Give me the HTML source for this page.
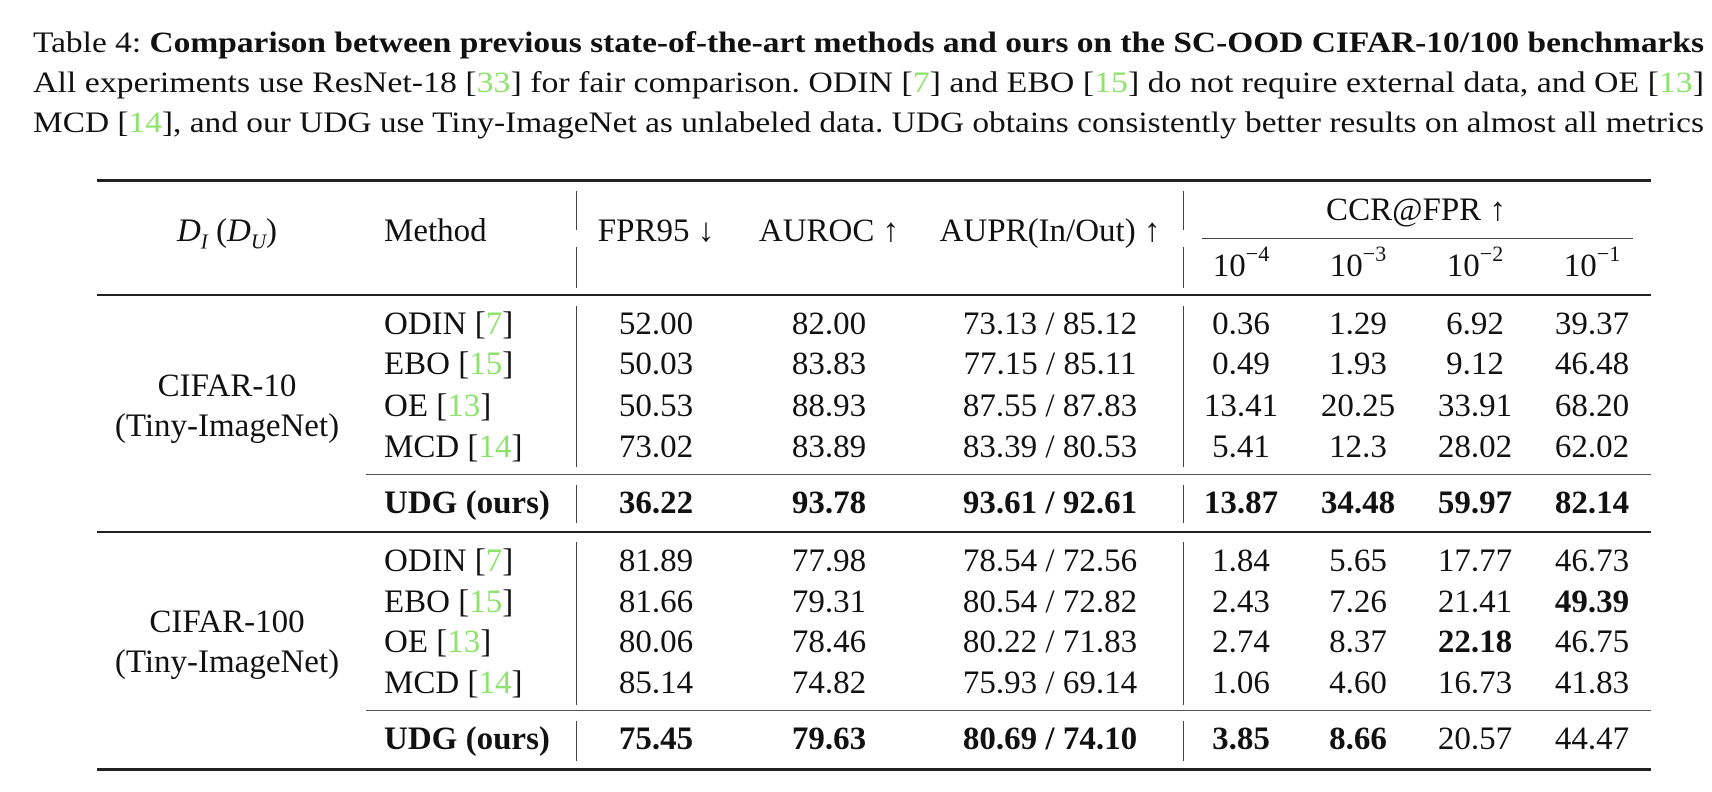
<!DOCTYPE html>
<html><head><meta charset="utf-8">
<style>
html,body{margin:0;padding:0;background:#fff;}
#root{position:relative;width:1712px;height:792px;overflow:hidden;font-family:"Liberation Serif","DejaVu Serif",serif;color:#111;}
.cap{position:absolute;left:33px;white-space:nowrap;font-size:30px;line-height:40px;transform-origin:0 50%;}
.g{color:#8ee36e;}
.rule{position:absolute;background:#222;}
.t{position:absolute;white-space:nowrap;font-size:33px;line-height:40px;height:40px;}
.c{transform:translateX(-50%);}
.b{font-weight:bold;}
sup{font-size:22px;line-height:0;position:relative;top:-3px;vertical-align:super;}
sub{font-size:21px;line-height:0;vertical-align:sub;}
i{font-style:italic;}
</style></head>
<body>
<div id="root">
  <div class="cap" style="top:23px">Table 4: <b>Comparison between previous state-of-the-art methods and ours on the SC-OOD CIFAR-10/100 benchmarks</b></div>
  <div class="cap" style="top:63px">All experiments use ResNet-18 [<span class="g">33</span>] for fair comparison. ODIN [<span class="g">7</span>] and EBO [<span class="g">15</span>] do not require external data, and OE [<span class="g">13</span>]</div>
  <div class="cap" style="top:103px">MCD [<span class="g">14</span>], and our UDG use Tiny-ImageNet as unlabeled data. UDG obtains consistently better results on almost all metrics</div>

  <div class="rule" style="left:97px;width:1554px;top:179px;height:3px"></div>
  <div class="rule" style="left:97px;width:1554px;top:294px;height:2px"></div>
  <div class="rule" style="left:97px;width:1554px;top:531px;height:2px"></div>
  <div class="rule" style="left:97px;width:1554px;top:768px;height:3px"></div>
  <div class="rule" style="left:366px;width:1285px;top:474px;height:1px;background:#555"></div>
  <div class="rule" style="left:366px;width:1285px;top:710px;height:1px;background:#555"></div>
  <div class="rule" style="left:1202px;width:431px;top:238px;height:1px;background:#444"></div>

  <div class="t c" style="left:227px;top:211px"><i>D</i><sub><i>I</i></sub> (<i>D</i><sub><i>U</i></sub>)</div>
  <div class="t" style="left:384px;top:211px">Method</div>
  <div class="t c" style="left:656px;top:211px">FPR95 ↓</div>
  <div class="t c" style="left:829px;top:211px">AUROC ↑</div>
  <div class="t c" style="left:1050px;top:211px">AUPR(In/Out) ↑</div>
  <div class="t c" style="left:1416px;top:190px">CCR@FPR ↑</div>
  <div class="t c" style="left:1241px;top:246px">10<sup>−4</sup></div>
  <div class="t c" style="left:1358px;top:246px">10<sup>−3</sup></div>
  <div class="t c" style="left:1475px;top:246px">10<sup>−2</sup></div>
  <div class="t c" style="left:1592px;top:246px">10<sup>−1</sup></div>

  <div class="t c" style="left:227px;top:366px">CIFAR-10</div>
  <div class="t c" style="left:227px;top:406px">(Tiny-ImageNet)</div>
  <div class="t c" style="left:227px;top:602px">CIFAR-100</div>
  <div class="t c" style="left:227px;top:642px">(Tiny-ImageNet)</div>
</div>
<script>
const methods = ["ODIN|7","EBO|15","OE|13","MCD|14","UDG (ours)"];
const c10 = [
 ["52.00","82.00","73.13 / 85.12","0.36","1.29","6.92","39.37"],
 ["50.03","83.83","77.15 / 85.11","0.49","1.93","9.12","46.48"],
 ["50.53","88.93","87.55 / 87.83","13.41","20.25","33.91","68.20"],
 ["73.02","83.89","83.39 / 80.53","5.41","12.3","28.02","62.02"],
 ["36.22","93.78","93.61 / 92.61","13.87","34.48","59.97","82.14"]];
const c100 = [
 ["81.89","77.98","78.54 / 72.56","1.84","5.65","17.77","46.73"],
 ["81.66","79.31","80.54 / 72.82","2.43","7.26","21.41","49.39"],
 ["80.06","78.46","80.22 / 71.83","2.74","8.37","22.18","46.75"],
 ["85.14","74.82","75.93 / 69.14","1.06","4.60","16.73","41.83"],
 ["75.45","79.63","80.69 / 74.10","3.85","8.66","20.57","44.47"]];
const bold10 = [[],[],[],[],[0,1,2,3,4,5,6]];
const bold100 = [[],[6],[5],[],[0,1,2,3,4]];
const root = document.getElementById('root');
const colX = [656,829,1050,1241,1358,1475,1592];
function addVline(x,y1,y2,name){
  const v=document.createElement('div');
  v.className='rule';
  v.style.cssText='left:'+x+'px;top:'+y1+'px;width:1px;height:'+(y2-y1)+'px;background:#444';
  
  
  root.appendChild(v);
}
addVline(576,191,230,'vline-header-a');addVline(576,247,288,'vline-header-b');
addVline(1183,191,230,'vline-header-c');addVline(1183,247,288,'vline-header-d');
function section(rows,bold,ys,tag){
  rows.forEach((r,i)=>{
    const m=methods[i].split('|');
    const md=document.createElement('div');
    md.className='t'+(m.length===1?' b':'');
    md.style.left='384px';md.style.top=(ys[i]-20)+'px';
    md.innerHTML = m.length>1 ? m[0]+' [<span class="g">'+m[1]+'</span>]' : m[0];
    
    
    root.appendChild(md);
    r.forEach((v,j)=>{
      const d=document.createElement('div');
      d.className='t c'+(bold[i].includes(j)?' b':'');
      d.style.left=colX[j]+'px';d.style.top=(ys[i]-20)+'px';
      d.textContent=v;
      
      
      root.appendChild(d);
    });
  });
}
section(c10,bold10,[324,364,406,447,503],'cifar10');
section(c100,bold100,[561,602,642,683,739],'cifar100');
addVline(576,306,467,'vline-c10-a');addVline(576,485,523,'vline-c10-b');
addVline(1183,306,467,'vline-c10-c');addVline(1183,485,523,'vline-c10-d');
addVline(576,542,705,'vline-c100-a');addVline(576,721,761,'vline-c100-b');
addVline(1183,542,705,'vline-c100-c');addVline(1183,721,761,'vline-c100-d');
document.querySelectorAll('.cap').forEach(el=>{
  const w=el.getBoundingClientRect().width;
  el.style.transform='scaleX('+(1671/w)+')';
});
</script>
</body></html>
